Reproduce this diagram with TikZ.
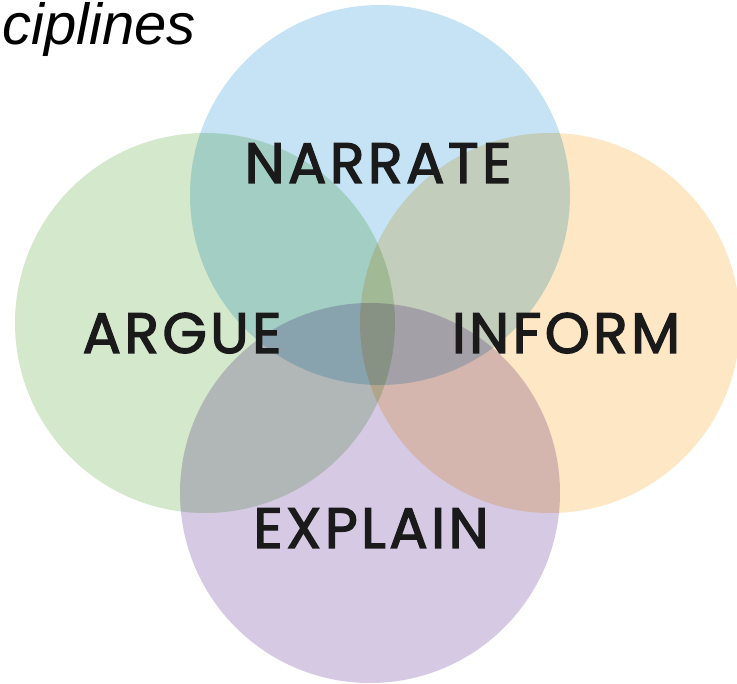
\documentclass[tikz,border=0pt]{standalone}
\usepackage{fontspec}
\setmainfont{Liberation Sans}
\newfontfamily\labelfont{Poppins}[FakeBold=2.3, LetterSpace=6]
\definecolor{skyblue}{HTML}{C5E3F4}
\definecolor{sage}{HTML}{D4E8CC}
\definecolor{peach}{HTML}{FDE7C4}
\definecolor{lilac}{HTML}{D6C9E4}
\definecolor{inkdark}{HTML}{1A1A1A}
\begin{document}
\begin{tikzpicture}[x=1pt,y=-1pt,
  disc/.style={circle, minimum size=380pt, inner sep=0pt, draw=none},
  word/.style={font=\labelfont\fontsize{57}{57}\selectfont,
    text=inkdark, anchor=base, inner sep=0pt}]
\useasboundingbox (0,0) rectangle (737,684);
% four overlapping discs, multiplied where they overlap
\begin{scope}[blend group=multiply]
  \node[disc, fill=skyblue] (narrate) at (380,195) {};
  \node[disc, fill=sage]    (argue)   at (205,323) {};
  \node[disc, fill=peach]   (inform)  at (550,323) {};
  \node[disc, fill=lilac]   (explain) at (370,493) {};
\end{scope}
% labels
\node[word] (tnarrate) at (378,183) {NARRATE};
\node[word] (targue)   at (182,353) {ARGUE};
\node[word] (tinform)  at (566,353) {INFORM};
\node[word] (texplain) at (371,548) {EXPLAIN};
% heading
\node[font=\itshape\fontsize{58}{58}\selectfont, anchor=base east, inner sep=0pt]
  (heading) at (196,45) {ciplines};
\end{tikzpicture}
\end{document}
